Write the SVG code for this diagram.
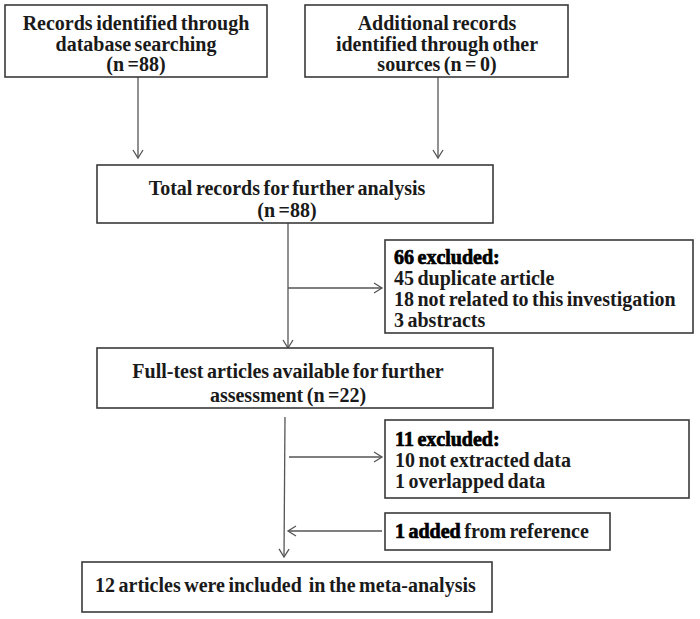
<svg xmlns="http://www.w3.org/2000/svg" width="700" height="619" viewBox="0 0 700 619">
<style>
.box{fill:#fff;stroke:#3a3a3a;stroke-width:1.6}
text{font-family:"Liberation Serif",serif;font-size:20px;font-weight:bold;fill:#1a1a1a;word-spacing:-1.5px}
.c{text-anchor:middle}
.b{fill:#000;stroke:#000;stroke-width:0.7}
.ln{stroke:#555;stroke-width:1.3;fill:none}
</style>
<defs>
<marker id="ah" markerWidth="12" markerHeight="12" refX="9" refY="6" orient="auto" markerUnits="userSpaceOnUse">
<path d="M1,1 L9,6 L1,11" fill="none" stroke="#555" stroke-width="1.3"/>
</marker>
</defs>
<rect width="700" height="619" fill="#fff"/>
<g id="connectors">
<line class="ln" x1="138" y1="77" x2="138" y2="158" marker-end="url(#ah)"/>
<line class="ln" x1="438" y1="77" x2="438" y2="158" marker-end="url(#ah)"/>
<line class="ln" x1="288" y1="223" x2="288" y2="348" marker-end="url(#ah)"/>
<line class="ln" x1="288" y1="288" x2="382" y2="288" marker-end="url(#ah)"/>
<line class="ln" x1="285" y1="417" x2="284" y2="557" marker-end="url(#ah)"/>
<line class="ln" x1="289" y1="457" x2="382" y2="457" marker-end="url(#ah)"/>
<line class="ln" x1="382" y1="531" x2="288" y2="531" marker-end="url(#ah)"/>
</g>
<g id="records-db">
<rect class="box" x="5" y="5" width="262" height="72"/>
<text class="c" x="136" y="30">Records identified through</text>
<text class="c" x="136" y="51">database searching</text>
<text class="c" x="136" y="71">(n =88)</text>
</g>
<g id="records-other">
<rect class="box" x="305" y="5" width="263" height="72"/>
<text class="c" x="437" y="30">Additional records</text>
<text class="c" x="437" y="51">identified through other</text>
<text class="c" x="437" y="71">sources (n = 0)</text>
</g>
<g id="total">
<rect class="box" x="97" y="165" width="396" height="58"/>
<text class="c" x="287" y="195">Total records for further analysis</text>
<text class="c" x="287" y="217">(n =88)</text>
</g>
<g id="excluded66">
<rect class="box" x="385" y="240" width="308" height="93"/>
<text class="b" x="394" y="264">66 excluded:</text>
<text x="394" y="285">45 duplicate article</text>
<text x="394" y="306">18 not related to this investigation</text>
<text x="394" y="327">3 abstracts</text>
</g>
<g id="fulltext">
<rect class="box" x="97" y="348" width="396" height="60"/>
<text class="c" x="288" y="378">Full-test articles available for further</text>
<text class="c" x="288" y="402">assessment (n =22)</text>
</g>
<g id="excluded11">
<rect class="box" x="385" y="420" width="304" height="78"/>
<text class="b" x="395" y="446">11 excluded:</text>
<text x="395" y="467">10 not extracted data</text>
<text x="395" y="488">1 overlapped data</text>
</g>
<g id="added">
<rect class="box" x="385" y="513" width="225" height="37"/>
<text x="395" y="538"><tspan class="b">1 added</tspan> from reference</text>
</g>
<g id="included">
<rect class="box" x="82" y="562" width="410" height="50"/>
<text x="95" y="592" xml:space="preserve">12 articles were included  in the meta-analysis</text>
</g>
</svg>
